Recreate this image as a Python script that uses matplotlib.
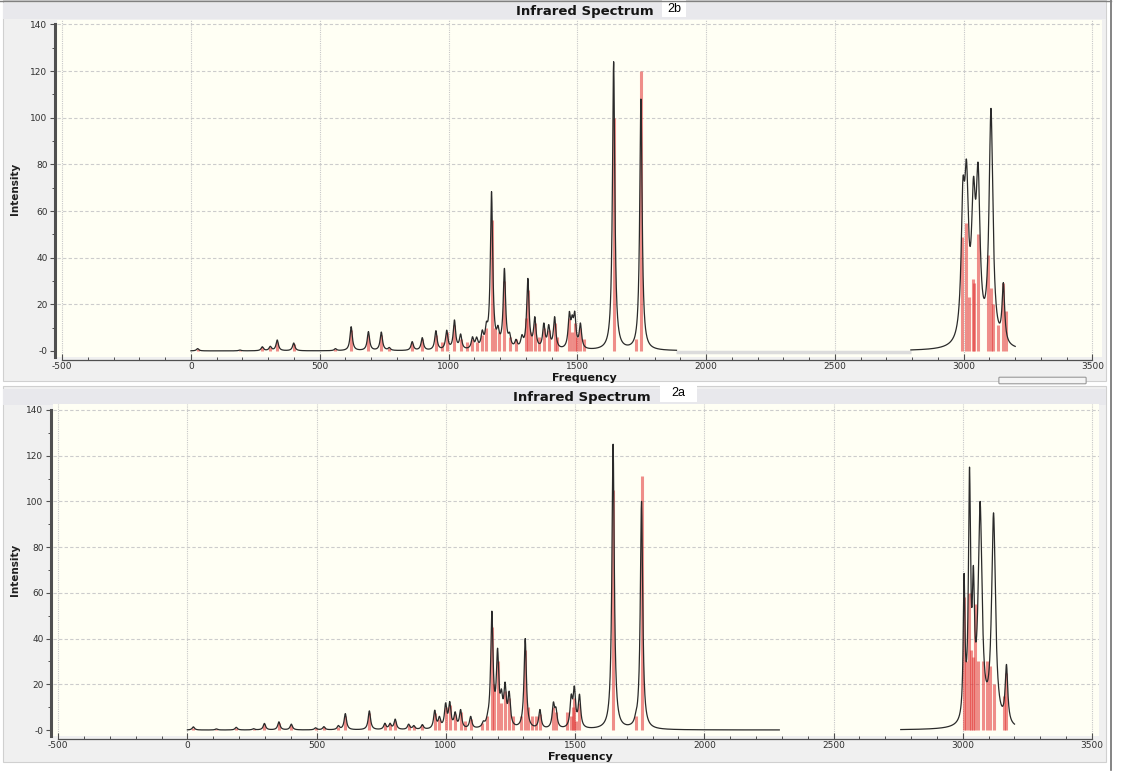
import numpy as np
import matplotlib
matplotlib.use('Agg')
import matplotlib.pyplot as plt
from matplotlib.patches import Rectangle, FancyBboxPatch
from matplotlib.lines import Line2D
from matplotlib.ticker import MultipleLocator

W, H = 1126, 784

# ---- spectrum 2b (upper panel) ----
stick_f_2b = [26, 190, 277, 308, 335, 399, 561, 622, 689, 739, 770, 859, 898, 951, 975, 993,
              1023, 1050, 1070, 1093, 1110, 1131, 1147, 1167, 1180, 1195, 1217, 1237, 1262,
              1300, 1308, 1320, 1335, 1350, 1370, 1389, 1412, 1420, 1469, 1480, 1490, 1500,
              1512, 1525, 1641, 1726, 1747,
              2993, 3008, 3019, 3037, 3042, 3057, 3095, 3105, 3112, 3134, 3154, 3163]
stick_i_2b = [1, 0.5, 1.5, 1.8, 4, 3, 1, 9, 7, 7, 1.2, 3.5, 5, 7, 4, 8,
              11, 5, 4, 5, 4, 7, 10, 56, 10, 8, 30, 6, 5,
              14, 26, 8, 12, 6, 10, 9, 12, 6, 14, 8, 12, 6,
              10, 5, 100, 5, 120,
              49, 55, 23, 31, 29, 50, 41, 27, 20, 11, 29, 17]
# broadened envelope: band centre, peak height, half width
band_f_2b = [26, 190, 277, 308, 335, 399, 561, 622, 689, 739, 770, 859, 898, 951, 993, 1023,
             1047, 1093, 1109, 1131, 1147, 1167, 1192, 1217, 1237, 1262, 1285, 1308, 1335,
             1370, 1389, 1412, 1469, 1480, 1490, 1512, 1641, 1747,
             2997, 3011, 3038, 3056, 3106, 3154]
band_h_2b = [1, 0.4, 1.8, 2, 4.7, 3.4, 1, 10.4, 8.3, 8.1, 1.5, 4, 5.7, 8.7, 8.9, 13.3,
             7.3, 6.1, 6, 9, 12.6, 68.3, 11, 35.4, 8, 5, 7, 31.1, 14.7,
             12, 11.3, 14.7, 16.9, 15.5, 17, 12, 124, 108,
             74, 82, 74.7, 80.7, 104, 29.3]
band_w_2b = [5.5] * 38 + [8, 9, 9, 9, 9, 6]
gap_2b = (1885, 2795)

# ---- spectrum 2a (lower panel) ----
stick_f_2a = [23, 112, 189, 256, 298, 354, 402, 496, 528, 584, 611, 704, 764, 784, 804, 856,
              876, 909, 957, 975, 999, 1015, 1036, 1057, 1075, 1096, 1140, 1160, 1178, 1188,
              1200, 1215, 1229, 1245, 1260, 1290, 1307, 1318, 1335, 1350, 1364, 1416, 1426,
              1470, 1485, 1490, 1497, 1505, 1517, 1647, 1735, 1757,
              3003, 3013, 3025, 3033, 3040, 3047, 3060, 3080, 3095, 3106, 3120, 3158, 3166]
stick_i_2a = [1, 0.4, 1, 0.4, 2.5, 3, 2, 0.8, 1.2, 1.5, 6, 7.5, 2.5, 2.5, 4, 2.3,
              1.8, 2, 7.5, 5, 10, 11, 7, 8, 4, 5, 3, 6, 45, 20,
              30, 12, 17, 14, 6, 6, 35, 10, 6, 6, 7, 10, 8,
              8, 6, 10, 14, 4, 12, 105, 6, 111,
              58, 30, 60, 35, 32, 55, 30, 30, 30, 28, 20, 15, 25]
band_f_2a = [23, 112, 189, 256, 298, 354, 402, 496, 528, 584, 611, 704, 764, 784, 804, 856,
             876, 909, 957, 975, 999, 1015, 1036, 1057, 1096, 1145, 1162, 1178, 1200, 1215,
             1229, 1245, 1307, 1364, 1416, 1426, 1485, 1497, 1517, 1647, 1735, 1757,
             3005, 3026, 3041, 3067, 3119, 3169]
band_h_2a = [1.4, 0.5, 1.2, 0.6, 2.9, 3.6, 2.6, 1, 1.5, 2, 7.2, 8.4, 3, 3, 4.8, 2.6,
             2, 2.4, 8.7, 6, 11.9, 12.5, 8, 9, 6, 4, 8, 52, 35.8, 18,
             21, 17, 40, 9, 12.3, 10, 15.7, 19.3, 15.7, 125, 8, 100,
             68.5, 115, 72, 100, 95, 28.7]
band_w_2a = [5.5] * 42 + [4, 5, 5, 9, 9, 6]
gap_2a = (2290, 2760)

yticks = [0, 20, 40, 60, 80, 100, 120, 140]
ytick_labels = ['-0', '20', '40', '60', '80', '100', '120', '140']
xticks = [-500, 0, 500, 1000, 1500, 2000, 2500, 3000, 3500]


def lorentz(x, x0, w):
    return 1.0 / (1.0 + ((x - x0) / w) ** 2)


def envelope(x, f, h, w):
    f = np.asarray(f, float)
    h = np.asarray(h, float)
    w = np.asarray(w, float)
    A = lorentz(f[:, None], f[None, :], w[None, :])
    amp = np.clip(np.linalg.solve(A, h), 0, None)
    return (amp[None, :] * lorentz(x[:, None], f[None, :], w[None, :])).sum(axis=1)


def fig_rect(x0, y0, x1, y1):
    return [x0 / W, 1 - y1 / H, (x1 - x0) / W, (y1 - y0) / H]


fig = plt.figure(figsize=(W / 100, H / 100), dpi=100)
fig.patch.set_facecolor('white')


def panel(box, plot, ylim, xlim, sf, si, bf, bh, bw, gap, gap_color, title, tag, tagbox):
    x0, y0, x1, y1 = box
    fig.patches.append(Rectangle((x0 / W, 1 - y1 / H), (x1 - x0) / W, (y1 - y0) / H,
                                 transform=fig.transFigure, facecolor='#f0f0f0',
                                 edgecolor='#d0d0d0', lw=0.8, zorder=-3))
    fig.patches.append(Rectangle((x0 / W, 1 - (y0 + 19) / H), (x1 - x0) / W, 16 / H,
                                 transform=fig.transFigure, facecolor='#e8e8ec',
                                 edgecolor='none', zorder=-2))
    ax = fig.add_axes(fig_rect(*plot))
    ax.set_facecolor('#fffff4')
    ax.set_xlim(*xlim)
    ax.set_ylim(*ylim)
    for xv in xticks:
        ax.axvline(xv, color='#c8c8c8', lw=0.8, ls=(0, (1, 1)), zorder=0)
    for yv in yticks[1:]:
        ax.axhline(yv, color='#cccccc', lw=0.8, ls=(0, (3, 2)), zorder=0)
    ax.vlines(sf, 0, si, colors='#e23232', alpha=0.55, lw=2.2, zorder=2)
    xs = np.linspace(0, 3200, 6401)
    ys = envelope(xs, bf, bh, bw)
    inside = (xs > gap[0]) & (xs < gap[1])
    ax.plot(np.where(inside, np.nan, xs), ys, color='#2a2a2a', lw=0.9, zorder=3)
    if gap_color:
        ax.plot([gap[0], gap[1]], [-0.6, -0.6], color=gap_color, lw=2.5, zorder=1,
                solid_capstyle='butt')
    for s in ['top', 'right']:
        ax.spines[s].set_visible(False)
    ax.spines['left'].set_position(('outward', 1.8))
    ax.spines['left'].set_linewidth(2.2)
    ax.spines['left'].set_color('#505050')
    ax.spines['left'].set_bounds(ylim[0], 140)
    ax.spines['bottom'].set_position(('outward', 2.2))
    ax.spines['bottom'].set_linewidth(0.9)
    ax.spines['bottom'].set_color('#505050')
    ax.spines['bottom'].set_bounds(-500, 3500)
    ax.set_xticks(xticks)
    ax.set_xticklabels([str(v) for v in xticks])
    ax.xaxis.set_minor_locator(MultipleLocator(100))
    ax.set_yticks(yticks)
    ax.set_yticklabels(ytick_labels)
    ax.yaxis.set_minor_locator(MultipleLocator(10))
    ax.tick_params(axis='x', which='major', direction='in', length=4, width=0.8,
                   color='#505050', labelsize=6.5, labelcolor='#303030', pad=1.5)
    ax.tick_params(axis='x', which='minor', direction='in', length=2.5, width=0.7,
                   color='#505050')
    ax.tick_params(axis='y', which='major', direction='out', length=3.5, width=0.8,
                   color='#505050', labelsize=6.5, labelcolor='#303030', pad=1.5)
    ax.tick_params(axis='y', which='minor', direction='out', length=2.5, width=0.7,
                   color='#505050')
    px0, py0, px1, py1 = plot
    cx = (px0 + px1) / 2
    fig.text(cx / W + 0.005, 1 - (y0 + 11) / H, title, ha='center', va='center',
             fontsize=9.5, fontweight='bold', color='#151515')
    fig.text(cx / W + 0.004, 1 - (py1 + 21) / H, 'Frequency', ha='center', va='center',
             fontsize=8, fontweight='bold', color='#151515')
    fig.text((x0 + 12) / W, 1 - ((py0 + py1) / 2 - 0) / H, 'Intensity', rotation=90,
             ha='center', va='center', fontsize=7.5, fontweight='bold', color='#202020',
             family=['Liberation Sans Narrow', 'DejaVu Sans'])
    bx0, by0, bx1, by1 = tagbox
    fig.patches.append(Rectangle((bx0 / W, 1 - by1 / H), (bx1 - bx0) / W, (by1 - by0) / H,
                                 transform=fig.transFigure, facecolor='white',
                                 edgecolor='none', zorder=1))
    fig.text((bx0 + bx1) / 2 / W, 1 - ((by0 + by1) / 2) / H, tag, ha='center', va='center',
             fontsize=9, color='black', family=['Liberation Sans', 'DejaVu Sans'])
    return ax


ax_b = panel((3, 0, 1106, 381), (57, 20, 1102, 357), (-2.6, 141.9), (-520, 3537),
             stick_f_2b, stick_i_2b, band_f_2b, band_h_2b, band_w_2b, gap_2b, '#dcdcdc',
             'Infrared Spectrum', '2b', (662, 0, 686, 17))
ax_a = panel((3, 386, 1106, 762), (53, 404, 1099, 736), (-2.6, 142.6), (-520, 3527),
             stick_f_2a, stick_i_2a, band_f_2a, band_h_2a, band_w_2a, gap_2a, None,
             'Infrared Spectrum', '2a', (660, 385, 697, 402))

# outer window border on the right
fig.lines.append(Line2D([1111 / W, 1111 / W], [1 - 0 / H, 1 - 770 / H],
                        transform=fig.transFigure, color='#707070', lw=1.2))
fig.lines.append(Line2D([0, 1111 / W], [1 - 1 / H, 1 - 1 / H],
                        transform=fig.transFigure, color='#808080', lw=1.0))
fig.patches.append(FancyBboxPatch((1000 / W, 1 - 383 / H), 85 / W, 5 / H,
                                  boxstyle='round,pad=0.001', transform=fig.transFigure,
                                  facecolor='#f4f4f4', edgecolor='#999999', lw=0.8))

fig.savefig('out.png', dpi=100)
